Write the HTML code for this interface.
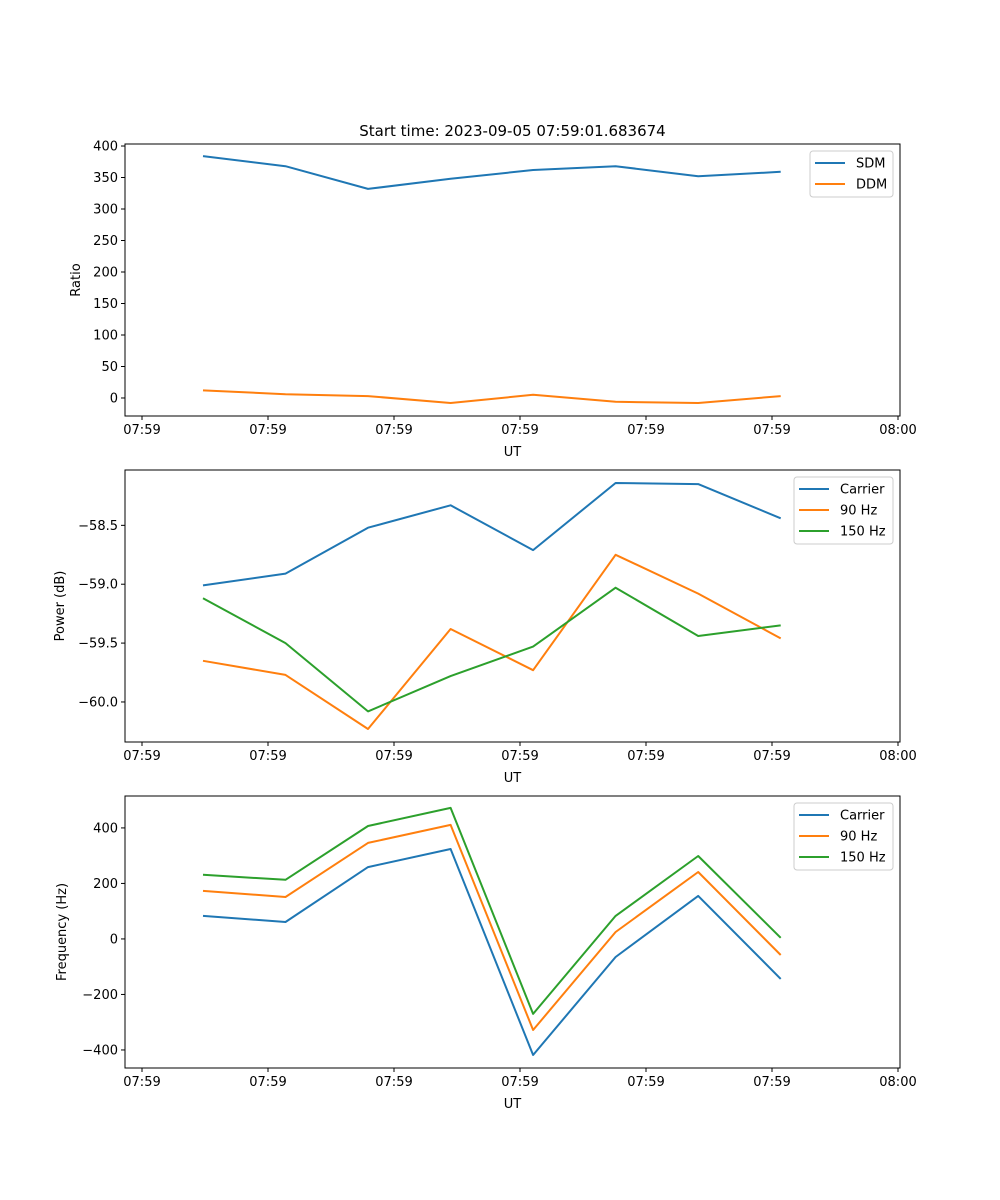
<!DOCTYPE html>
<html><head><meta charset="utf-8"><style>
html,body{margin:0;padding:0;background:#fff}
svg{display:block;font-family:"DejaVu Sans","Liberation Sans",sans-serif}
</style></head><body>
<svg id="fig" width="1000" height="1200" viewBox="0 0 1000 1200" xmlns="http://www.w3.org/2000/svg">
<rect width="1000" height="1200" fill="#fff"/>
<text x="512.5" y="136" font-size="15" text-anchor="middle">Start time: 2023-09-05 07:59:01.683674</text>
</svg>
<script>
// shared x data (seconds after 07:59:00)
const times = [4.84, 11.39, 17.94, 24.49, 31.04, 37.59, 44.14, 50.69];
const xTickVals = [0, 10, 20, 30, 40, 50, 60];
const xTickLabels = ["07:59","07:59","07:59","07:59","07:59","07:59","08:00"];

// panel 1
const sdm = [384, 368, 332, 348, 362, 368, 352, 359];
const ddm = [12, 6, 3, -8, 5, -6, -8, 3];
const p1Ticks = [0, 50, 100, 150, 200, 250, 300, 350, 400];
const p1TickLabels = ["0","50","100","150","200","250","300","350","400"];

// panel 2
const pCarrier = [-59.01, -58.91, -58.52, -58.33, -58.71, -58.14, -58.15, -58.44];
const p90 = [-59.65, -59.77, -60.23, -59.38, -59.73, -58.75, -59.08, -59.46];
const p150 = [-59.12, -59.50, -60.08, -59.78, -59.53, -59.03, -59.44, -59.35];
const p2Ticks = [-60.0, -59.5, -59.0, -58.5];
const p2TickLabels = ["\u221260.0","\u221259.5","\u221259.0","\u221258.5"];

// panel 3
const fCarrier = [83, 61, 259, 324, -418, -65, 155, -144];
const f90 = [173, 151, 346, 411, -328, 25, 241, -58];
const f150 = [231, 213, 407, 472, -270, 83, 299, 4];
const p3Ticks = [-400, -200, 0, 200, 400];
const p3TickLabels = ["\u2212400","\u2212200","0","200","400"];

const NS = "http://www.w3.org/2000/svg";
const svg = document.getElementById('fig');
const C = ["#1f77b4","#ff7f0e","#2ca02c"];
function mk(tag, attrs, parent){const e=document.createElementNS(NS,tag);for(const k in attrs)e.setAttribute(k,attrs[k]);(parent||svg).appendChild(e);return e;}
const L=125,R=900;
const xs = v => 142 + v*12.6;

function panel(id, top, bottom, yDom, ticks, tickLabels, ylabel, series, names, legend){
  const g = mk('g',{});
  
  
  const ys = v => bottom - (v - yDom[0])/(yDom[1]-yDom[0])*(bottom-top);
  const ax = mk('rect',{x:L,y:top,width:R-L,height:bottom-top,fill:'none',stroke:'#000','stroke-width':1},g);
  
  
  xTickVals.forEach((v,i)=>{
    const x=xs(v);
    mk('line',{x1:x,x2:x,y1:bottom,y2:bottom+4,stroke:'#000'},g);
    const t=mk('text',{x:x,y:bottom+18,'font-size':13,'text-anchor':'middle'},g);
    t.textContent=xTickLabels[i];
    
    
  });
  ticks.forEach((v,i)=>{
    const y=ys(v);
    mk('line',{x1:L-4,x2:L,y1:y,y2:y,stroke:'#000'},g);
    const t=mk('text',{x:L-7,y:y+4.5,'font-size':13,'text-anchor':'end'},g);
    t.textContent=tickLabels[i];
    
    
  });
  const xl=mk('text',{x:(L+R)/2,y:bottom+40,'font-size':13,'text-anchor':'middle'},g);
  xl.textContent='UT';
  
  
  const yl=mk('text',{x:0,y:0,'font-size':13,'text-anchor':'middle',transform:`translate(${ylabel[1]},${(top+bottom)/2}) rotate(-90)`},g);
  yl.textContent=ylabel[0];
  
  
  series.forEach((s,k)=>{
    const pts=s.map((v,i)=>xs(times[i]).toFixed(1)+','+ys(v).toFixed(1)).join(' ');
    const p=mk('polyline',{points:pts,fill:'none',stroke:C[k],'stroke-width':2,'stroke-linejoin':'round'},g);
    
    
  });
  const lg=mk('g',{},g);
  
  
  mk('rect',{x:legend[0],y:top+7,width:legend[1],height:names.length*21+4,rx:3,fill:'#fff','fill-opacity':0.8,stroke:'#ccc'},lg);
  names.forEach((n,k)=>{
    const y=top+19+k*21;
    mk('line',{x1:legend[0]+5,x2:legend[0]+35,y1:y,y2:y,stroke:C[k],'stroke-width':2},lg);
    const t=mk('text',{x:legend[0]+46,y:y+4.5,'font-size':13},lg);
    t.textContent=n;
    
    
  });
}
panel('ratio-panel',144,416,[-28.6,403.2],p1Ticks,p1TickLabels,['Ratio',80],[sdm,ddm],['SDM','DDM'],[810,83]);
panel('power-panel',470,742,[-60.34,-58.03],p2Ticks,p2TickLabels,['Power (dB)',64],[pCarrier,p90,p150],['Carrier','90 Hz','150 Hz'],[794,99]);
panel('frequency-panel',796,1068,[-465,515],p3Ticks,p3TickLabels,['Frequency (Hz)',66],[fCarrier,f90,f150],['Carrier','90 Hz','150 Hz'],[794,99]);
</script>
</body></html>
